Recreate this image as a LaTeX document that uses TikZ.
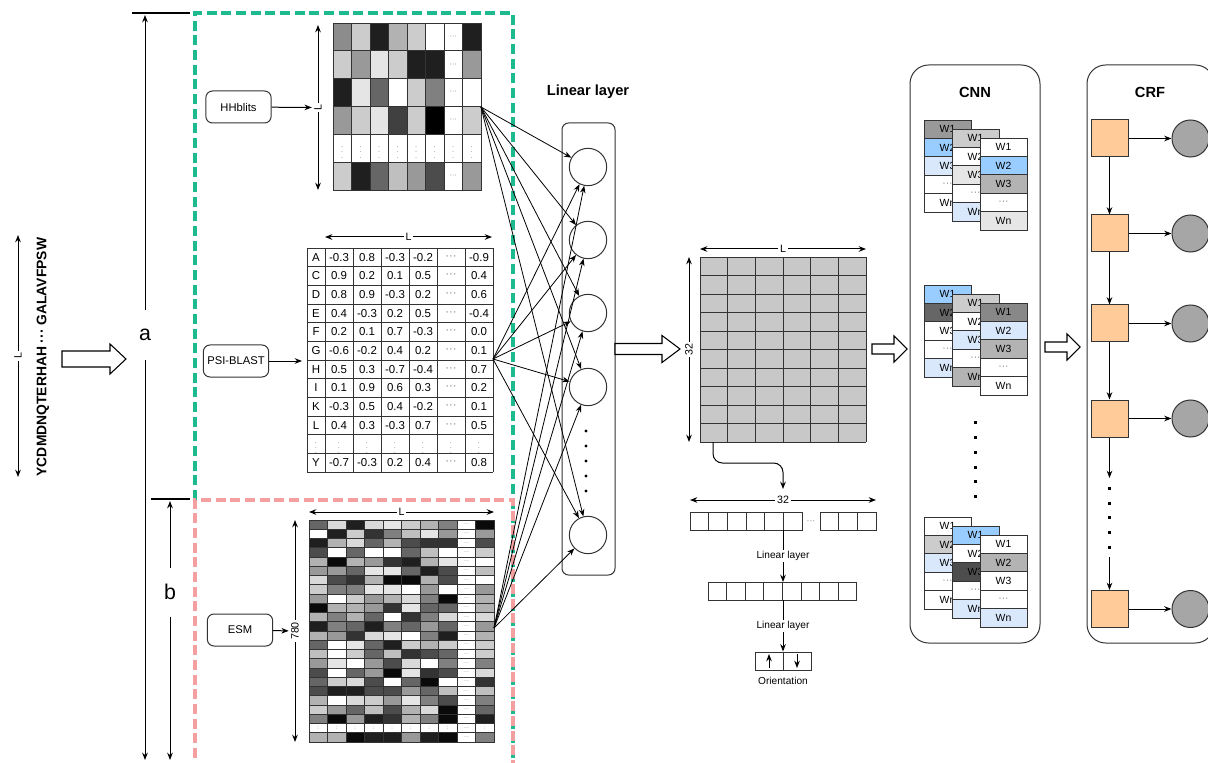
\documentclass[tikz,border=0pt]{standalone}
\usepackage{fontspec}
\setmainfont{Liberation Sans}
\usetikzlibrary{arrows.meta,positioning,calc}
\definecolor{msagreen}{HTML}{1DB98F}
\definecolor{esmpink}{HTML}{F4A0A0}
\definecolor{rim}{HTML}{333333}
\definecolor{wblue}{HTML}{99CCFF}
\definecolor{wlight}{HTML}{DAE8FC}
\definecolor{gA}{HTML}{999999}
\definecolor{gB}{HTML}{CCCCCC}
\definecolor{gC}{HTML}{B3B3B3}
\definecolor{gD}{HTML}{E6E6E6}
\definecolor{gE}{HTML}{666666}
\definecolor{gF}{HTML}{4D4D4D}
\definecolor{gG}{HTML}{888888}
\definecolor{featgray}{HTML}{C8C8C8}
\definecolor{crfsq}{HTML}{FFCC99}
\definecolor{crfci}{HTML}{A6A6A6}
\newcommand{\vdt}{{\fontsize{5.5}{5.5}\selectfont\color{gray}$\vdots$}}
\newcommand{\mdt}{{\color{gray}···}}
\pgfmathdeclarerandomlist{shade}{{4}{12}{20}{30}{40}{50}{60}{70}{75}{80}{85}{90}{100}}

\begin{document}
\begin{tikzpicture}[x=0.75pt,y=-0.75pt,>={Stealth[length=5.5pt,width=4.2pt]},line width=0.75pt,
  tool/.style={draw=rim,rounded corners=5pt,minimum width=49pt,minimum height=24pt,inner sep=1pt,font=\fontsize{8.4}{10}\selectfont},
  neuron/.style={circle,draw=rim,minimum size=28pt,inner sep=0pt},
  dim/.style={fill=white,inner sep=1.5pt,font=\fontsize{8}{9}\selectfont},
  small/.style={font=\fontsize{7.6}{9}\selectfont},
  title/.style={font=\bfseries\fontsize{11}{13}\selectfont},
  num/.style={inner sep=0pt,font=\fontsize{8.6}{10}\selectfont},
  cell/.style={draw=rim,line width=0.6pt},
  tinydots/.style={inner sep=0pt,text=gray,font=\fontsize{5.5}{6}\selectfont},
  esmdots/.style={inner sep=0pt,text=gray,font=\fontsize{4.2}{4.2}\selectfont},
  wcell/.style={draw=rim,line width=0.6pt,minimum width=35.25pt,minimum height=13.8pt,inner sep=0pt,font=\fontsize{7.8}{9}\selectfont},
  crfstate/.style={draw=rim,fill=crfsq,minimum size=27.75pt,inner sep=0pt},
  crflabel/.style={circle,draw=rim,fill=crfci,minimum size=27.75pt,inner sep=0pt},
  bracketlab/.style={inner sep=0pt,minimum height=36pt,font=\fontsize{16}{18}\selectfont},
  groupline/.style={line width=2.3pt,dash pattern=on 7.5pt off 3.5pt},
  pics/hollow/.style n args={4}{code={\draw[fill=white,line width=0.8pt] (0,-#2) -- (#1-#4,-#2) -- (#1-#4,-#3) -- (#1,0) -- (#1-#4,#3) -- (#1-#4,#2) -- (0,#2) -- cycle;}}]
  \useasboundingbox (0,0) rectangle (1208,763);

  % input sequence
  \draw[<->] (18,235) -- node[dim,rotate=90] (seqL) {L} (18,477);
  \node[rotate=90,inner sep=0pt,font=\bfseries\fontsize{10.4}{12}\selectfont] (seq) at (43,357) {YCDMDNQTERHAH ··· GALAVFPSW};
  \pic at (62,359) {hollow={64}{8}{15}{16}};

  % feature groups a and b
  \draw[msagreen,groupline] (195,500) -- (195,13) -- (513,13) -- (513,766);
  \draw[esmpink,groupline,dash phase=5pt] (195,766) -- (195,500) -- (513,500) -- (513,766);
  \draw[line width=1.2pt] (132,13) -- (190,13);
  \draw[line width=1.2pt] (151,499) -- (190,499);
  \coordinate (atop) at (145,15);
  \coordinate (abot) at (145,760);
  \coordinate (btop) at (170,501);
  \coordinate (bbot) at (170,760);
  \node[bracketlab] (labA) at (145,335) {a};
  \node[bracketlab] (labB) at (170,592) {b};
  \draw[->] (labA) -- (atop);
  \draw[->] (labA) -- (abot);
  \draw[->] (labB) -- (btop);
  \draw[->] (labB) -- (bbot);

  % HHblits profile
  \node[tool] (hhb) at (238.5,107) {HHblits};
  \draw[<->] (318,25) -- node[dim,rotate=90] (hhL) {L} (318,190);
  \draw[->] (hhb) -- (hhL);
  \foreach \row [count=\rw from 0] in {{55,80,12,70,80,100,-1,12},{80,60,90,80,12,12,-1,60},{12,90,40,100,80,50,-1,100},{60,80,90,25,80,0,-1,80},{-2,-2,-2,-2,-2,-2,-2,-2},{80,12,40,75,60,30,-1,60}}{
    \foreach \val [count=\col from 0] in \row {
      \ifnum\val<0
        \draw[cell,fill=white] (333+18.5*\col,23+27.9*\rw) rectangle ++(18.5,27.9);
        \node[tinydots] (hh\rw-\col) at (342.25+18.5*\col,36.95+27.9*\rw) {\ifnum\val=-1 ···\else$\vdots$\fi};
      \else
        \draw[cell,fill=white!\val!black] (333+18.5*\col,23+27.9*\rw) rectangle ++(18.5,27.9);
      \fi
    }
  }

  % PSI-BLAST profile
  \node[tool] (psib) at (236,361) {PSI-BLAST};
  \coordinate (psiin) at (302,361);
  \draw[->] (psib) -- (psiin);
  \draw[<->] (325,237) -- node[dim] (psiL) {L} (492,237);
  \foreach \k in {0,...,12}{\draw[cell] (307,248+18.67*\k) -- (493,248+18.67*\k);}
  \foreach \x in {307,325,353,381,409,437,465,493}{\draw[cell] (\x,248) -- (\x,472);}
  \foreach \lt/\va/\vb/\vc/\vdd/\vm/\ve [count=\rw from 0] in {A/-0.3/0.8/-0.3/-0.2/\mdt/-0.9, C/0.9/0.2/0.1/0.5/\mdt/0.4, D/0.8/0.9/-0.3/0.2/\mdt/0.6, E/0.4/-0.3/0.2/0.5/\mdt/-0.4, F/0.2/0.1/0.7/-0.3/\mdt/0.0, G/-0.6/-0.2/0.4/0.2/\mdt/0.1, H/0.5/0.3/-0.7/-0.4/\mdt/0.7, I/0.1/0.9/0.6/0.3/\mdt/0.2, K/-0.3/0.5/0.4/-0.2/\mdt/0.1, L/0.4/0.3/-0.3/0.7/\mdt/0.5, \vdt/\vdt/\vdt/\vdt/\vdt/\vdt/\vdt, Y/-0.7/-0.3/0.2/0.4/\mdt/0.8}{
    \node[num] (psi\rw-0) at (316,257.33+18.67*\rw) {\lt};
    \foreach \val [count=\k] in {\va,\vb,\vc,\vdd,\vm,\ve}{\node[num] (psi\rw-\k) at (311+28*\k,257.33+18.67*\rw) {\val};}
  }

  % ESM embedding
  \node[tool] (esmb) at (240,630) {ESM};
  \draw[<->] (295,520) -- node[dim,rotate=90] (esm780) {780} (295,742);
  \draw[->] (esmb) -- (esm780);
  \draw[<->] (309,512) -- node[dim] (esmL) {L} (494,512);
  \pgfmathsetseed{31}
  \foreach \rw in {0,...,23}{
    \foreach \col in {0,...,9}{
      \pgfmathrandomitem{\shd}{shade}
      \ifnum\col=8
        \draw[cell,fill=white] (309+18.5*\col,520+9.25*\rw) rectangle ++(18.5,9.25);
        \node[esmdots] (esm\rw-\col) at (318.25+18.5*\col,524.6+9.25*\rw) {···};
      \else\ifnum\rw=22
        \draw[cell,fill=white] (309+18.5*\col,520+9.25*\rw) rectangle ++(18.5,9.25);
        \node[esmdots] (esm\rw-\col) at (318.25+18.5*\col,524.6+9.25*\rw) {:};
      \else
        \draw[cell,fill=white!\shd!black] (309+18.5*\col,520+9.25*\rw) rectangle ++(18.5,9.25);
      \fi\fi
    }
  }

  % linear layer
  \coordinate (hhout) at (481,107);
  \coordinate (psiout) at (493,359);
  \coordinate (esmout) at (494,628);
  \draw[rim,rounded corners=5pt] (562,123) rectangle (615,575);
  \node[title] (lintitle) at (588,92) {Linear layer};
  \foreach \y [count=\i] in {167,240,313,387,535}{\node[neuron] (n\i) at (588,\y) {};}
  \foreach \y in {431,446,461,476,491}{\fill (586,\y) circle (1.2pt);}
  \foreach \s in {hhout,psiout,esmout}{\foreach \i in {1,...,5}{\draw[->,line width=0.6pt] (\s) -- (n\i);}}
  \pic at (615,349) {hollow={65}{5.5}{13.5}{18}};

  % L x 32 features
  \fill[featgray] (700,257) rectangle (866,442);
  \foreach \i in {0,...,6}{\draw[cell] (700+27.67*\i,257) -- (700+27.67*\i,442);}
  \foreach \i in {0,...,10}{\draw[cell] (700,257+18.5*\i) -- (866,257+18.5*\i);}
  \draw[<->] (700,249) -- node[dim] (featL) {L} (866,249);
  \draw[<->] (689,257) -- node[dim,rotate=90] (feat32) {32} (689,442);

  % orientation branch
  \foreach \i in {0,...,5}{\draw[cell,fill=white] (690+18.67*\i,512) rectangle ++(18.67,18);}
  \foreach \i in {0,...,2}{\draw[cell,fill=white] (820+18.67*\i,512) rectangle ++(18.67,18);}
  \node[tinydots,font=\fontsize{6.5}{7}\selectfont] (vecdots) at (811,522) {···};
  \draw[<->] (690,500) -- node[dim] (vec32) {32} (876,500);
  \coordinate (featout) at (713,442);
  \coordinate (vecin) at (783,489);
  \draw[->,rounded corners=7pt] (featout) -- ++(0,21) -| (vecin);
  \foreach \i in {0,...,7}{\draw[cell,fill=white] (708+18.6*\i,582) rectangle ++(18.6,18);}
  \coordinate (vecout) at (783,530);
  \coordinate (hidin) at (783,582);
  \coordinate (hidout) at (783,600);
  \node[draw=rim,minimum width=42pt,minimum height=13.5pt,inner sep=0pt] (orient) at (783,661) {};
  \draw[rim] (orient.north) -- (orient.south);
  \draw[->] (769,668) -- (769,654);
  \draw[->] (797,654) -- (797,668);
  \node[small,below=1pt of orient] (orientlab) {Orientation};
  \draw[->] (vecout) -- node[small,fill=white,inner sep=1pt] (lin1) {Linear layer} (hidin);
  \draw[->] (hidout) -- node[small,fill=white,inner sep=1pt] (lin2) {Linear layer} (orient);
  \pic at (872,349) {hollow={35}{5}{13}{13}};

  % CNN
  \draw[rim,rounded corners=14pt] (910,65) rectangle (1040,643);
  \node[title] (cnntitle) at (975,92) {CNN};
  \foreach \gy/\cols [count=\g] in {120/{gA,wblue,wlight,white,white,gB,white,gD,white,wlight,white,wblue,gC,white,gD},285/{wblue,gE,white,white,wlight,gB,white,wlight,white,gC,gG,wlight,gC,white,white},517/{white,gB,wlight,white,white,wblue,white,gF,white,wlight,white,gC,white,white,wlight}}{
    \foreach \f [count=\n from 0] in \cols {
      \pgfmathtruncatemacro\k{\n/5}
      \pgfmathtruncatemacro\j{mod(\n,5)}
      \node[wcell,fill=\f] (w\g-\n) at (947.5+28*\k,\gy+9*\k+9.2+18.4*\j) {\ifcase\j W1\or W2\or W3\or \mdt\or Wn\fi};
    }
  }
  \foreach \y in {422,437,452,467,481,496}{\fill (973.5,\y-1.5) rectangle ++(3,3);}
  \pic at (1045,347) {hollow={35}{5}{13}{13}};

  % CRF
  \draw[rim,rounded corners=14pt] (1087,65) rectangle (1214,643);
  \node[title] (crftitle) at (1150,92) {CRF};
  \foreach \y [count=\i] in {138.5,233.5,323.5,418.5,609}{
    \node[crfstate] (s\i) at (1109.5,\y) {};
    \node[crflabel] (c\i) at (1190.5,\y) {};
    \draw[->] (s\i) -- (c\i);
  }
  \draw[->] (s1) -- (s2);
  \draw[->] (s2) -- (s3);
  \draw[->] (s3) -- (s4);
  \coordinate (dtop) at (1109.5,478);
  \coordinate (dbot) at (1109.5,557);
  \draw[->] (s4) -- (dtop);
  \draw[->] (dbot) -- (s5);
  \foreach \y in {488,503,517,532,547}{\fill (1108,\y-1.5) rectangle ++(3,3);}
\end{tikzpicture}
\end{document}
